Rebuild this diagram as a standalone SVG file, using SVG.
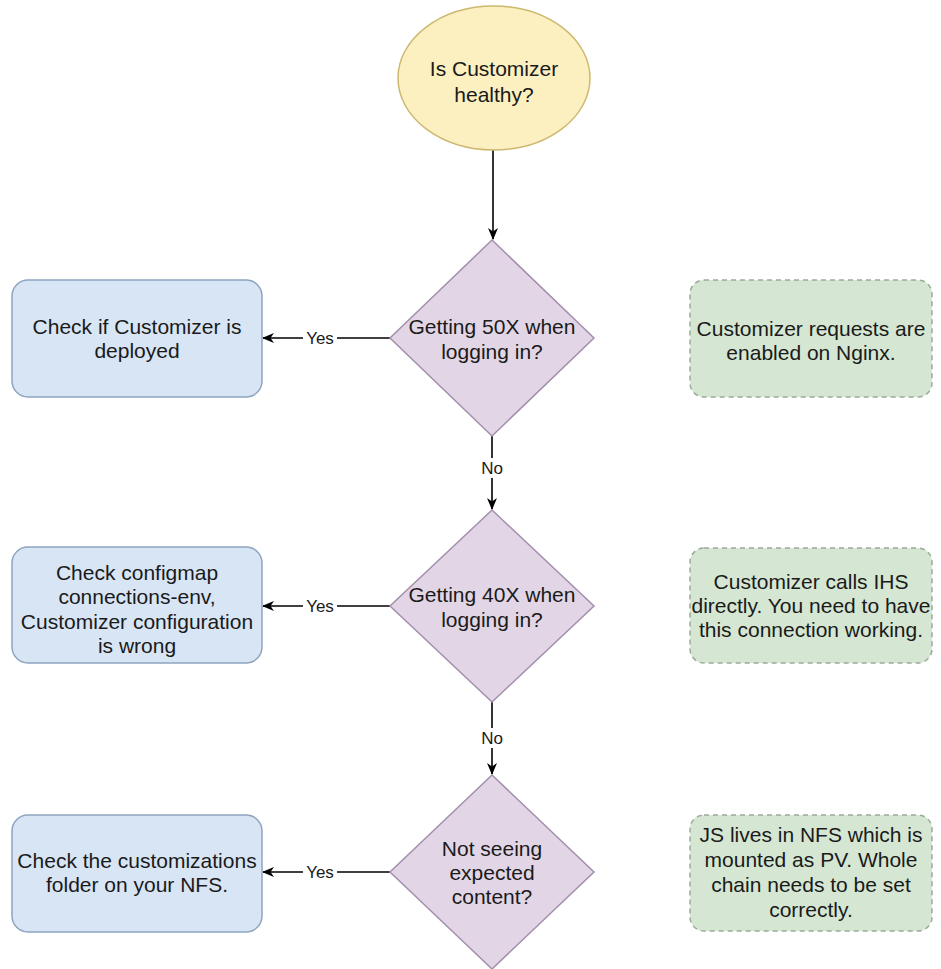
<svg xmlns="http://www.w3.org/2000/svg" width="941" height="969" viewBox="0 0 941 969">
<style>
text{font-family:"Liberation Sans",Arial,Helvetica,sans-serif;fill:#1a1a1a;text-anchor:middle}
.n{font-size:21px}
.l{font-size:17px}
.start{fill:#fcefc0;stroke:#cdb870;stroke-width:1.5}
.dec{fill:#e2d6e6;stroke:#a38fac;stroke-width:1.5}
.act{fill:#d8e5f5;stroke:#8ea4c0;stroke-width:1.5}
.note{fill:#d5e7d3;stroke:#9aab98;stroke-width:1.5;stroke-dasharray:5 4}
.c{stroke:#000;stroke-width:1.6;fill:none}
.lb{fill:#fff}
</style>
<defs>
<marker id="ah" viewBox="0 0 12 10" refX="11" refY="5" markerWidth="12" markerHeight="10" markerUnits="userSpaceOnUse" orient="auto">
<path d="M0,0 L12,5 L0,10 L3.5,5 Z" fill="#000"/>
</marker>
</defs>
<rect width="941" height="969" fill="#fff"/>
<g id="connectors">
<line class="c" x1="493" y1="150" x2="493" y2="239" marker-end="url(#ah)"/>
<line class="c" x1="390" y1="338" x2="263" y2="338" marker-end="url(#ah)"/>
<rect class="lb" x="303" y="328" width="34" height="20"/>
<text class="l" x="320" y="344">Yes</text>
<line class="c" x1="492" y1="436" x2="492" y2="509" marker-end="url(#ah)"/>
<rect class="lb" x="480" y="458" width="24" height="20"/>
<text class="l" x="492" y="474">No</text>
<line class="c" x1="390" y1="606" x2="263" y2="606" marker-end="url(#ah)"/>
<rect class="lb" x="303" y="596" width="34" height="20"/>
<text class="l" x="320" y="612">Yes</text>
<line class="c" x1="492" y1="702" x2="492" y2="774" marker-end="url(#ah)"/>
<rect class="lb" x="480" y="728" width="24" height="20"/>
<text class="l" x="492" y="744">No</text>
<line class="c" x1="390" y1="872" x2="263" y2="872" marker-end="url(#ah)"/>
<rect class="lb" x="303" y="862" width="34" height="20"/>
<text class="l" x="320" y="878">Yes</text>
</g>
<g id="start">
<ellipse class="start" cx="494" cy="78" rx="96" ry="72"/>
<text class="n" x="494" y="76">Is Customizer</text>
<text class="n" x="494" y="102">healthy?</text>
</g>
<g id="d1">
<polygon class="dec" points="492,240 594,338 492,436 390,338"/>
<text class="n" x="492" y="334">Getting 50X when</text>
<text class="n" x="492" y="359">logging in?</text>
</g>
<g id="a1">
<rect class="act" x="12" y="280" width="250" height="117" rx="16"/>
<text class="n" x="137" y="334">Check if Customizer is</text>
<text class="n" x="137" y="358">deployed</text>
</g>
<g id="n1">
<rect class="note" x="690" y="280" width="242" height="117" rx="14"/>
<text class="n" x="811" y="336">Customizer requests are</text>
<text class="n" x="811" y="360">enabled on Nginx.</text>
</g>
<g id="d2">
<polygon class="dec" points="492,510 594,606 492,702 390,606"/>
<text class="n" x="492" y="602">Getting 40X when</text>
<text class="n" x="492" y="627">logging in?</text>
</g>
<g id="a2">
<rect class="act" x="12" y="547" width="250" height="116" rx="16"/>
<text class="n" x="137" y="580">Check configmap</text>
<text class="n" x="137" y="604">connections-env,</text>
<text class="n" x="137" y="629">Customizer configuration</text>
<text class="n" x="137" y="653">is wrong</text>
</g>
<g id="n2">
<rect class="note" x="690" y="548" width="242" height="115" rx="14"/>
<text class="n" x="811" y="589">Customizer calls IHS</text>
<text class="n" x="811" y="613">directly. You need to have</text>
<text class="n" x="811" y="637">this connection working.</text>
</g>
<g id="d3">
<polygon class="dec" points="492,775 594,872 492,969 390,872"/>
<text class="n" x="492" y="856">Not seeing</text>
<text class="n" x="492" y="880">expected</text>
<text class="n" x="492" y="904">content?</text>
</g>
<g id="a3">
<rect class="act" x="12" y="815" width="250" height="117" rx="16"/>
<text class="n" x="137" y="868">Check the customizations</text>
<text class="n" x="137" y="892">folder on your NFS.</text>
</g>
<g id="n3">
<rect class="note" x="690" y="815" width="242" height="116" rx="14"/>
<text class="n" x="811" y="842">JS lives in NFS which is</text>
<text class="n" x="811" y="867">mounted as PV. Whole</text>
<text class="n" x="811" y="892">chain needs to be set</text>
<text class="n" x="811" y="917">correctly.</text>
</g>
</svg>
